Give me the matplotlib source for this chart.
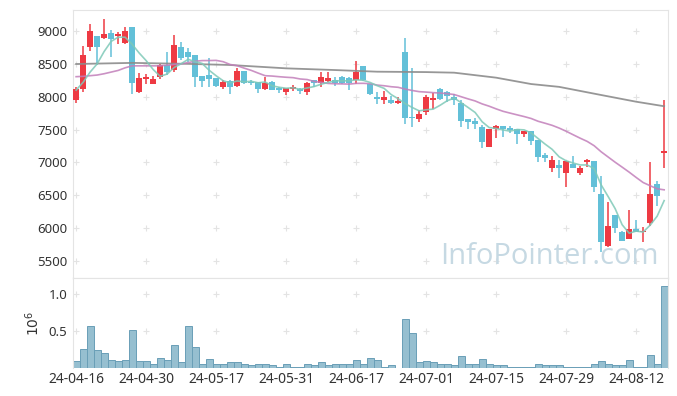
import numpy as np
import pandas as pd
import matplotlib
matplotlib.use('Agg')
import matplotlib.pyplot as plt

plt.rcParams['font.family'] = ['Noto Sans', 'DejaVu Sans']

# daily candles (KRW)
opens = [7950, 8110, 8750, 8920, 8890, 8970, 8920, 8820, 9060, 8070,
         8275, 8200, 8300, 8480, 8400, 8760, 8675, 8635, 8315, 8330,
         8280, 8145, 8245, 8170, 8390, 8215, 8220, 8115, 8230, 8130,
         8065, 8115, 8115, 8075, 8255, 8205, 8240, 8255, 8305, 8290,
         8255, 8470, 8190, 8000, 7950, 7950, 7900, 8685, 7695, 7655,
         7770, 7950, 8110, 8075, 8000, 7900, 7660, 7635, 7545, 7240,
         7505, 7555, 7530, 7510, 7430, 7480, 7340, 7105, 6920, 6960,
         6845, 6970, 6845, 7000, 7020, 6520, 5730, 6200, 5945, 5835,
         5985, 5935, 6080, 6665, 7150]
highs = [8150, 8770, 9100, 8930, 9190, 9010, 8985, 9060, 9060, 8360,
         8350, 8320, 8500, 8685, 8940, 8840, 8740, 8640, 8320, 8585,
         8285, 8255, 8250, 8430, 8395, 8255, 8225, 8305, 8235, 8150,
         8135, 8180, 8140, 8230, 8260, 8380, 8380, 8305, 8310, 8295,
         8540, 8475, 8195, 8075, 8085, 8010, 8000, 8890, 8430, 7800,
         8025, 8060, 8130, 8080, 8035, 7950, 7665, 7670, 7570, 7515,
         7565, 7560, 7560, 7515, 7485, 7485, 7345, 7140, 7100, 7040,
         7025, 7100, 6950, 7050, 7025, 6795, 6400, 6205, 5950, 6275,
         6125, 6010, 7010, 6715, 7950]
lows = [7910, 8070, 8700, 8490, 8880, 8600, 8810, 8810, 8040, 8050,
        8200, 8195, 8270, 8330, 8380, 8560, 8530, 8150, 8150, 8145,
        8150, 8110, 8040, 8150, 8190, 8180, 8050, 8100, 8095, 8050,
        8025, 8090, 8035, 8025, 8150, 8150, 8230, 8165, 8200, 8100,
        8200, 8240, 8030, 7890, 7890, 7890, 7890, 7585, 7545, 7610,
        7720, 7820, 7950, 7925, 7875, 7545, 7510, 7510, 7215, 7235,
        7365, 7390, 7445, 7275, 7390, 7265, 7000, 7000, 6850, 6760,
        6630, 6910, 6810, 6935, 6555, 5640, 5715, 5920, 5805, 5830,
        5935, 5795, 6035, 6340, 6920]
closes = [8110, 8630, 9000, 8750, 8950, 8880, 8950, 9000, 8210, 8290,
          8300, 8275, 8480, 8380, 8790, 8585, 8610, 8305, 8245, 8270,
          8165, 8230, 8145, 8390, 8205, 8205, 8115, 8205, 8100, 8095,
          8130, 8150, 8085, 8205, 8205, 8305, 8290, 8205, 8205, 8205,
          8380, 8255, 8040, 7960, 8000, 7910, 7935, 7670, 7670, 7740,
          7990, 7985, 7965, 8010, 7950, 7635, 7620, 7585, 7305, 7510,
          7560, 7510, 7495, 7430, 7480, 7325, 7085, 7070, 7035, 6910,
          7020, 6920, 6920, 7035, 6630, 5785, 6030, 6000, 5810, 5985,
          5945, 5960, 6520, 6495, 7170]
# volume in millions of shares
volumes = [0.10, 0.25, 0.56, 0.24, 0.20, 0.11, 0.09, 0.11, 0.51, 0.09,
           0.09, 0.06, 0.13, 0.11, 0.31, 0.08, 0.56, 0.28, 0.06, 0.12,
           0.06, 0.05, 0.08, 0.08, 0.06, 0.04, 0.06, 0.05, 0.035, 0.02,
           0.06, 0.02, 0.02, 0.06, 0.04, 0.08, 0.035, 0.05, 0.05, 0.05,
           0.11, 0.05, 0.13, 0.11, 0.02, 0.035, 0.005, 0.66, 0.47, 0.08,
           0.09, 0.08, 0.06, 0.05, 0.035, 0.16, 0.06, 0.05, 0.12, 0.05,
           0.035, 0.035, 0.02, 0.02, 0.02, 0.02, 0.05, 0.035, 0.035, 0.035,
           0.02, 0.02, 0.02, 0.02, 0.05, 0.09, 0.05, 0.035, 0.035, 0.11,
           0.02, 0.02, 0.18, 0.05, 1.10]

# moving-average values before enough candles are on screen
ma5_head = [8100, 8220, 8375, 8500]
ma20_head = [8305, 8310, 8320, 8330, 8350, 8375, 8400, 8440, 8470, 8470,
             8470, 8470, 8470, 8480, 8490, 8500, 8520, 8540, 8550]
# long average
ma120_idx = [0, 8, 16, 22, 30, 37, 43, 50, 54, 60, 65, 69, 75, 80, 84]
ma120_val = [8498, 8515, 8500, 8483, 8432, 8406, 8381, 8375, 8366, 8290,
             8193, 8150, 8026, 7924, 7855]

tick_pos = [0, 10, 20, 30, 40, 50, 60, 70, 80]
tick_labels = ['24-04-16', '24-04-30', '24-05-17', '24-05-31', '24-06-17',
               '24-07-01', '24-07-15', '24-07-29', '24-08-12']
price_ticks = [5500, 6000, 6500, 7000, 7500, 8000, 8500, 9000]

red = '#ee3a43'
blue = '#63c0d8'
frame = '#e4e4e4'
txt = '#333333'

o = np.array(opens, dtype=float)
c = np.array(closes, dtype=float)
x = np.arange(len(c))

ma5 = pd.Series(c).rolling(5).mean().values
ma5[:4] = ma5_head
ma20 = pd.Series(c).rolling(20).mean().values
ma20[:19] = ma20_head

fig = plt.figure(figsize=(6.77, 3.96), dpi=100)
ax = fig.add_axes([0.1078, 0.298, 0.8789, 0.6767])
axv = fig.add_axes([0.1078, 0.0707, 0.8789, 0.2273], sharex=ax)

# grid crosses
for xt in tick_pos:
    ax.scatter([xt] * len(price_ticks), price_ticks, marker='+', s=16,
               color='#e3e3e3', linewidths=0.8, zorder=0)
    axv.scatter([xt, xt], [0.5, 1.0], marker='+', s=16,
                color='#e3e3e3', linewidths=0.8, zorder=0)

# candles
col = np.where(c >= o, red, blue)
ax.vlines(x, lows, highs, colors=col, linewidth=1.1, zorder=2)
ax.bar(x, np.maximum(np.abs(c - o), 14), 0.82, bottom=np.minimum(o, c),
       color=col, zorder=3)

# moving averages
ax.plot(ma120_idx, ma120_val, color='#8c8c8c', lw=1.3, alpha=0.9, zorder=4)
ax.plot(x, ma20, color='#c27fba', lw=1.2, alpha=0.85, zorder=4)
ax.plot(x, ma5, color='#7fc9b8', lw=1.2, alpha=0.85, zorder=4)

ax.text(0.985, 0.025, 'InfoPointer.com', transform=ax.transAxes,
        ha='right', va='bottom', fontsize=21, color='#c6d9e3',
        family=['Open Sans', 'DejaVu Sans'], zorder=1)

ax.set_xlim(-0.45, 84.55)
ax.set_ylim(5240, 9320)
ax.set_yticks(price_ticks)
ax.tick_params(axis='y', length=0, labelsize=9.5, colors=txt, pad=4)
ax.tick_params(axis='x', length=0, labelbottom=False)

# volume
axv.bar(x, volumes, 1.0, color='#96bfd0', edgecolor='#6a9fb7', linewidth=0.7)
axv.set_ylim(0, 1.21)
axv.set_yticks([0.5, 1.0])
axv.set_yticklabels(['0.5', '1.0'])
axv.set_xticks(tick_pos)
axv.set_xticklabels(tick_labels)
axv.tick_params(length=0, labelsize=10, colors=txt, pad=3)
axv.tick_params(axis='y', labelsize=9.5, pad=4)
axv.set_ylabel('$10^6$', fontsize=10, color=txt, labelpad=4)

for a in (ax, axv):
    for s in a.spines.values():
        s.set_color(frame)
        s.set_linewidth(0.8)
axv.spines['bottom'].set_visible(False)

fig.savefig('out.png', dpi=100)
